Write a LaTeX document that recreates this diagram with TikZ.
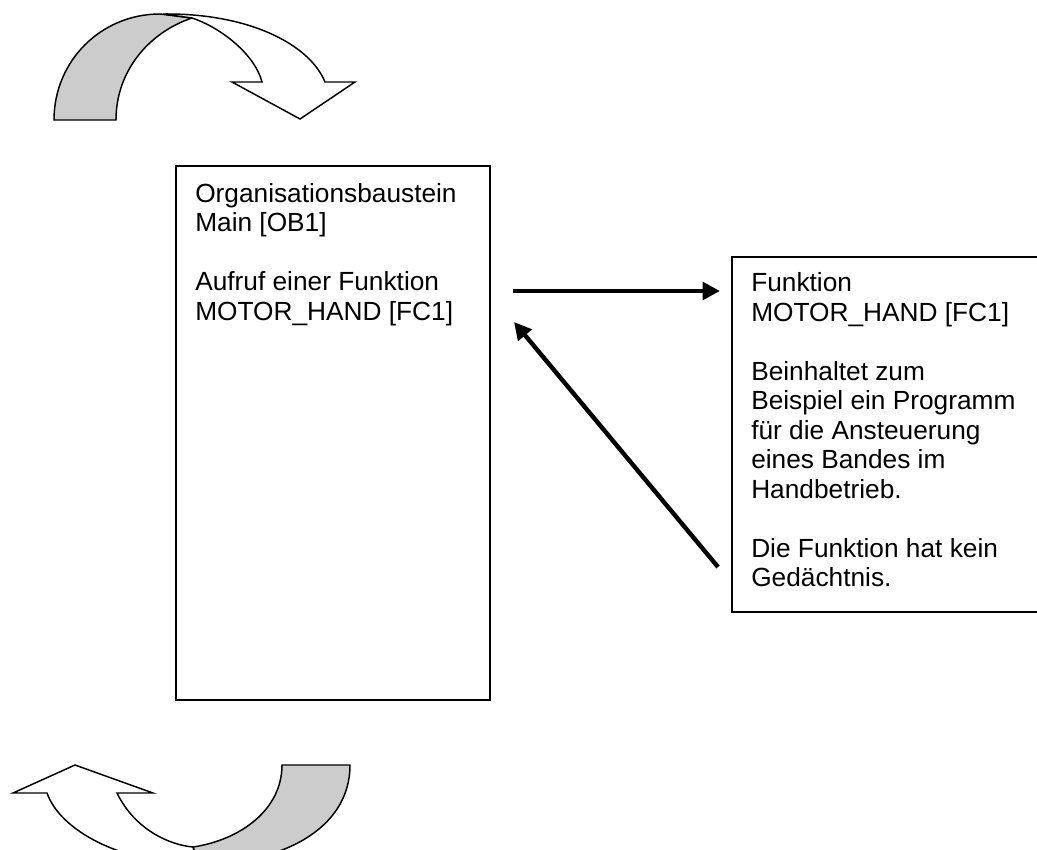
\documentclass[tikz,border=0pt]{standalone}
\usepackage{fontspec}
\setmainfont{Liberation Sans}
\usetikzlibrary{arrows.meta}
\begin{document}
\begin{tikzpicture}[x=0.75pt,y=-0.75pt,
  boxstyle/.style={draw=black, line width=1.2pt, fill=white, inner sep=0pt, anchor=north west},
  txt/.style={anchor=north west, align=left, inner sep=0pt, font=\fontsize{19.7pt}{22.1pt}\selectfont},
  bigarrow/.style={line width=3.6pt, -{Triangle[length=13pt,width=13pt]}},
  shapeline/.style={draw=black, line width=1.1pt, line join=miter},
  grayfill/.style={shapeline, fill=black!20},
  whitefill/.style={shapeline, fill=white}]
\useasboundingbox (0,0) rectangle (1037,849);
\clip (0,0) rectangle (1037,849);

% top curved arrow
\path[grayfill] (54,120) .. controls (54,61) and (101,14) .. (160,14)
  -- (192,18) .. controls (150,32) and (116,70) .. (116,120) -- cycle;
\path[whitefill] (163,14) .. controls (250,13) and (310,45) .. (325,82)
  -- (355,82) -- (300,119) -- (232,82) -- (262,82)
  .. controls (255,55) and (222,28) .. (192,18) -- cycle;

% bottom curved arrow
\path[whitefill] (47,793) -- (13,793) -- (75,765) -- (153,793) -- (117,793)
  .. controls (135,830) and (170,845) .. (193,847) -- (200,864)
  .. controls (120,864) and (60,830) .. (47,793) -- cycle;
\path[grayfill] (282,765) -- (350,765) .. controls (350,830) and (280,864) .. (200,864)
  -- (193,847) .. controls (240,840) and (282,810) .. (282,765) -- cycle;

% boxes
\node[boxstyle, minimum width=235.5pt, minimum height=400.5pt] (ob1) at (175,165) {};
\node[boxstyle, minimum width=250pt, minimum height=266.25pt] (fc1) at (731,256) {};

\node[txt] (ob1text) at (195,181.4) {\strut Organisationsbaustein\\Main [OB1]\\[22.1pt]Aufruf einer Funktion\\MOTOR\_HAND [FC1]};
\node[txt] (fc1text) at (751,270.9) {\strut Funktion\\MOTOR\_HAND [FC1]\\[22.1pt]Beinhaltet zum\\Beispiel ein Programm\\f\"ur die Ansteuerung\\eines Bandes im\\Handbetrieb.\\[22.1pt]Die Funktion hat kein\\Ged\"achtnis.};

% connectors
\coordinate (callstart) at (513,291);
\coordinate (callend) at (720,291);
\coordinate (retstart) at (718,567);
\coordinate (retend) at (514,322);
\draw[bigarrow] (callstart) -- (callend);
\draw[bigarrow, line width=3.3pt] (retstart) -- (retend);
\end{tikzpicture}
\end{document}
